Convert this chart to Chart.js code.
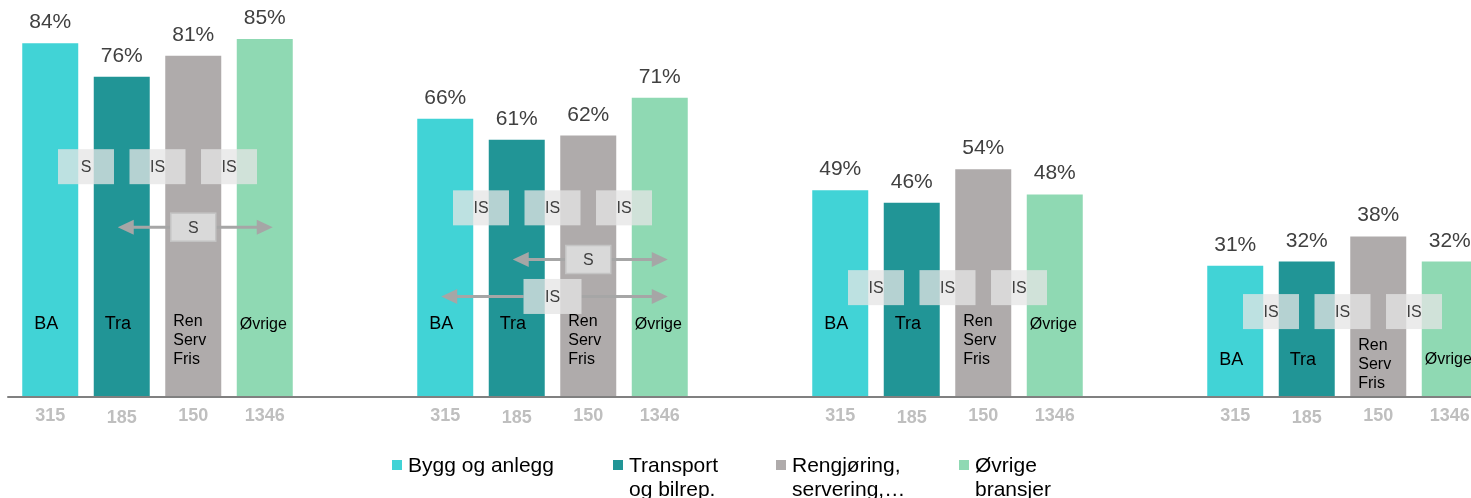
<!DOCTYPE html>
<html><head><meta charset="utf-8">
<script src="https://cdn.jsdelivr.net/npm/chart.js@4.4.0/dist/chart.umd.min.js"></script>
<style>
html,body{margin:0;padding:0;background:#fff;overflow:hidden;width:1471px;height:498px;position:relative;}
#wrap{position:absolute;left:-40px;top:-24px;width:1580px;height:522px;}
.lg{position:absolute;font-family:"Liberation Sans",Arial,sans-serif;font-size:21px;line-height:24px;color:#000;white-space:pre-line;}
.mk{position:absolute;width:10px;height:10px;}
</style></head><body>
<div id="wrap"><canvas id="c" width="1580" height="522"></canvas></div>
<div id="legend"></div>
<script>
const groups = ['1', '2', '3', '4'];
const seriesNames = ['Bygg og anlegg', 'Transport\nog bilrep.', 'Rengjøring,\nservering,…', 'Øvrige\nbransjer'];
const shortNames = ['BA', 'Tra', 'Ren\nServ\nFris', 'Øvrige'];
const nCounts = ['315', '185', '150', '1346'];
const valuesBA = [84, 66, 49, 31];
const valuesTra = [76, 61, 46, 32];
const valuesRen = [81, 62, 54, 38];
const valuesOvr = [85, 71, 48, 32];
const seriesColors = ['#41D3D6', '#219596', '#AFABAB', '#8FD9B3'];
const innerLabelLevel = [17.1, 17.1, 17.1, 8.6];
const innerLabelLevelMulti = [17.6, 17.6, 17.6, 12.1];
const pairText = [['S', 'IS', 'IS'], ['IS', 'IS', 'IS'], ['IS', 'IS', 'IS'], ['IS', 'IS', 'IS']];
const pairLevel = [54.6, 44.8, 25.8, 20.1];
const arrowGroup = [0, 1, 1];
const arrowFrom = [1, 1, 0];
const arrowTo = [3, 3, 3];
const arrowBoxAt = [2, 2, 1.5];
const arrowLevel = [40.2, 32.5, 23.7];
const arrowText = ['S', 'S', 'IS'];

const seriesValues = [valuesBA, valuesTra, valuesRen, valuesOvr];
const FONT = '"Liberation Sans", Arial, sans-serif';

// HTML legend
const legendLeft = [392, 613, 776, 959];
const legendEl = document.getElementById('legend');
seriesNames.forEach((name, i) => {
  const mk = document.createElement('div');
  mk.className = 'mk';
  mk.style.left = legendLeft[i] + 'px';
  mk.style.top = '460px';
  mk.style.background = seriesColors[i];
  legendEl.appendChild(mk);
  const t = document.createElement('div');
  t.className = 'lg';
  t.style.left = (legendLeft[i] + 16) + 'px';
  t.style.top = '453px';
  t.textContent = name;
  legendEl.appendChild(t);
});

const overlay = {
  id: 'overlay',
  afterDatasetsDraw(chart) {
    const ctx = chart.ctx;
    const ys = chart.scales.y;
    const bar = (s, g) => chart.getDatasetMeta(s).data[g];
    const xAt = (g, pos) => {
      const a = Math.floor(pos), b = Math.ceil(pos);
      const xa = bar(a, g).x, xb = bar(b, g).x;
      return xa + (xb - xa) * (pos - a);
    };
    const bottom = chart.chartArea.bottom;
    ctx.save();
    // baseline
    const b0 = bar(0, 0);
    ctx.strokeStyle = '#808080';
    ctx.lineWidth = 2;
    ctx.beginPath();
    ctx.moveTo(b0.x - b0.width / 2 - 15, bottom + 1);
    ctx.lineTo(chart.width, bottom + 1);
    ctx.stroke();

    for (let g = 0; g < groups.length; g++) {
      for (let s = 0; s < seriesValues.length; s++) {
        const el = bar(s, g);
        // percent label
        ctx.fillStyle = '#404040';
        ctx.font = '21px ' + FONT;
        ctx.textAlign = 'center';
        ctx.textBaseline = 'alphabetic';
        ctx.fillText(seriesValues[s][g] + '%', el.x, el.y - 15);
        // n label
        ctx.fillStyle = '#BFBFBF';
        ctx.font = 'bold 18px ' + FONT;
        ctx.textBaseline = 'middle';
        ctx.fillText(nCounts[s], el.x, bottom + 20 + (s === 1 ? 2.5 : 0));
        // inner label
        const lines = shortNames[s].split('\n');
        const offs = [12, 11, 8, 3];
        ctx.fillStyle = '#000';
        ctx.textAlign = 'left';
        ctx.font = (s < 2 ? '18px ' : '16px ') + FONT;
        const lvl = lines.length > 1 ? innerLabelLevelMulti[g] : innerLabelLevel[g];
        const y0 = ys.getPixelForValue(lvl);
        lines.forEach((ln, k) => ctx.fillText(ln, el.x - el.width / 2 + offs[s], y0 + k * 19));
      }
      // pairwise boxes
      pairText[g].forEach((txt, k) => {
        const cx = xAt(g, k + 0.5);
        const cy = ys.getPixelForValue(pairLevel[g]);
        const w = bar(0, g).width, h = 35;
        ctx.fillStyle = 'rgba(229,229,229,0.76)';
        ctx.fillRect(cx - w / 2, cy - h / 2, w, h);
        ctx.fillStyle = '#404040';
        ctx.font = '16px ' + FONT;
        ctx.textAlign = 'center';
        ctx.textBaseline = 'middle';
        ctx.fillText(txt, cx, cy + 1);
      });
    }
    // arrows
    arrowGroup.forEach((g, i) => {
      const x1 = bar(arrowFrom[i], g).x - 4;
      const x2 = bar(arrowTo[i], g).x + 8;
      const cy = ys.getPixelForValue(arrowLevel[i]);
      const cx = xAt(g, arrowBoxAt[i]);
      const solid = arrowText[i] === 'S';
      const w = solid ? 45 : bar(0, g).width + 2;
      const h = solid ? 28 : 35;
      ctx.strokeStyle = '#A6A6A6';
      ctx.fillStyle = '#A6A6A6';
      ctx.lineWidth = 3;
      ctx.beginPath();
      ctx.moveTo(x1 + 12, cy); ctx.lineTo(cx - w / 2, cy);
      ctx.moveTo(cx + w / 2, cy); ctx.lineTo(x2 - 12, cy);
      ctx.stroke();
      ctx.beginPath();
      ctx.moveTo(x1, cy); ctx.lineTo(x1 + 16, cy - 7.5); ctx.lineTo(x1 + 16, cy + 7.5); ctx.closePath();
      ctx.moveTo(x2, cy); ctx.lineTo(x2 - 16, cy - 7.5); ctx.lineTo(x2 - 16, cy + 7.5); ctx.closePath();
      ctx.fill();
      if (solid) {
        ctx.fillStyle = '#D9D9D9';
        ctx.fillRect(cx - w / 2, cy - h / 2, w, h);
        ctx.strokeStyle = '#C4C4C4';
        ctx.lineWidth = 1.5;
        ctx.strokeRect(cx - w / 2, cy - h / 2, w, h);
      } else {
        ctx.fillStyle = 'rgba(229,229,229,0.76)';
        ctx.fillRect(cx - w / 2, cy - h / 2, w, h);
      }
      ctx.fillStyle = '#404040';
      ctx.font = '16px ' + FONT;
      ctx.textAlign = 'center';
      ctx.textBaseline = 'middle';
      ctx.fillText(arrowText[i], cx, cy + 1);
    });
    ctx.restore();
  }
};

new Chart(document.getElementById('c'), {
  type: 'bar',
  data: {
    labels: groups,
    datasets: seriesValues.map((vals, i) => ({
      label: seriesNames[i],
      data: vals,
      backgroundColor: seriesColors[i],
      borderWidth: 0,
      categoryPercentage: 0.7241,
      barPercentage: 0.783
    }))
  },
  options: {
    responsive: false,
    devicePixelRatio: 1,
    animation: false,
    events: [],
    layout: { padding: { left: 0, right: 0, top: 0, bottom: 102 } },
    plugins: { legend: { display: false }, tooltip: { enabled: false } },
    scales: {
      x: { display: false },
      y: { display: false, min: 0, max: 100 }
    }
  },
  plugins: [overlay]
});
</script>
</body></html>
